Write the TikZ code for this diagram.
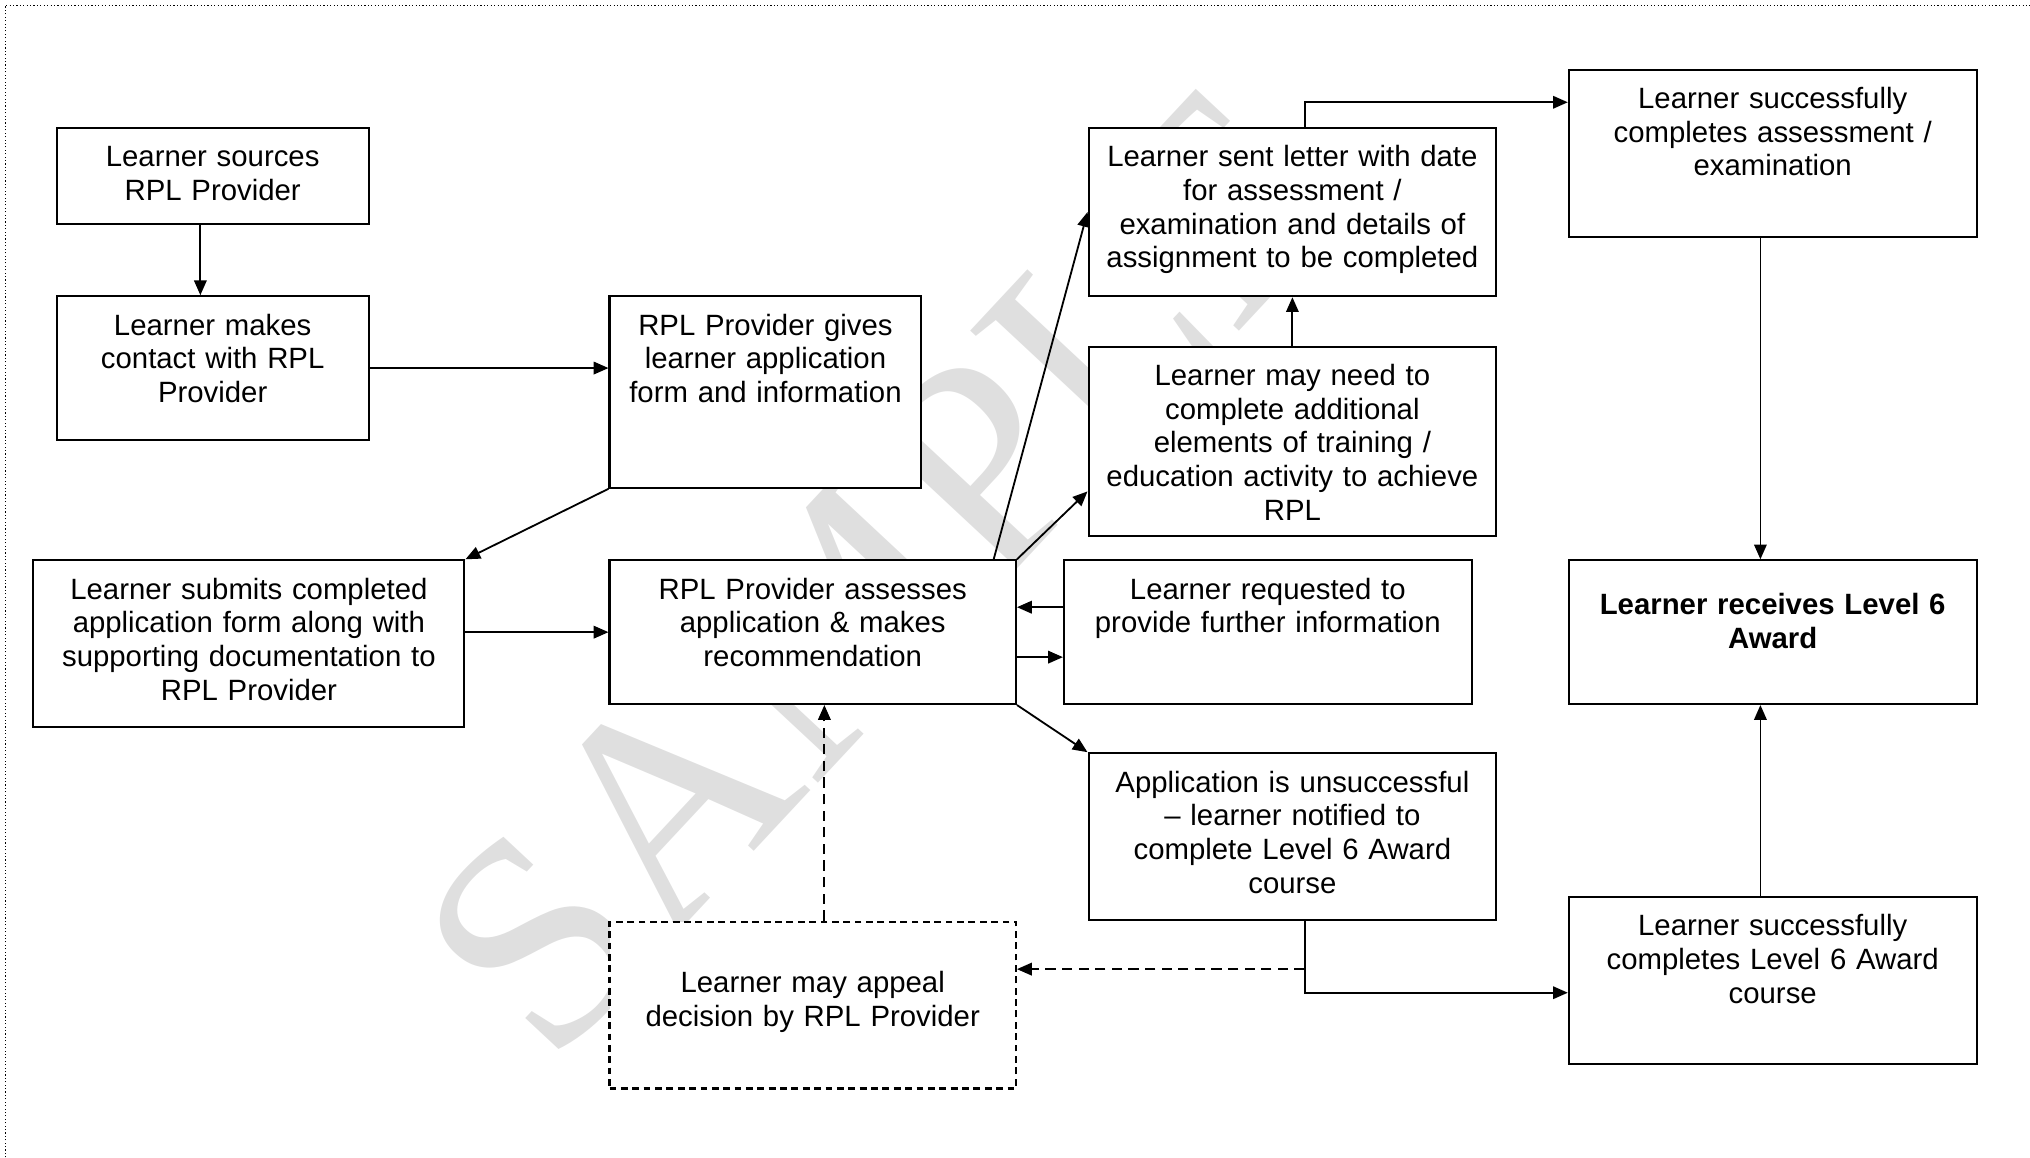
\documentclass[tikz,border=0pt]{standalone}
\usepackage{fontspec}
\setmainfont{Liberation Sans}
\newfontfamily\markfont{Liberation Serif}
\usetikzlibrary{arrows.meta}
\tikzset{>={Triangle[length=6.5pt,width=5.5pt]}}
\tikzset{
  stage/.style={draw, fill=white, line width=0.9pt, anchor=north west, align=center,
    inner sep=0pt, text height=0.6cm, font=\fontsize{12.9}{14.8}\selectfont},
  link/.style={line width=0.8pt, ->},
  appealdash/.style={dash pattern=on 4.5pt off 2.8pt},
}

\begin{document}
\begin{tikzpicture}[x=0.02cm, y=-0.02cm]
  \useasboundingbox (0,0) rectangle (1568,894);
  \draw[densely dotted, line width=0.5pt] (4,894) -- (4,4) -- (1568,4);
  % watermark
  \node[rotate=47, text=gray!25, font=\markfont\fontsize{132}{132}\selectfont] (mark) at (682,440) {SAMPLE};

  % left column
  \node[stage, text width=4.82cm, text depth=0.88cm] (src) at (43,98) {Learner sources\\RPL Provider};
  \node[stage, text width=4.82cm, text depth=1.62cm] (contact) at (43,228) {Learner makes\\contact with RPL\\Provider};
  \node[stage, text width=6.66cm, text depth=1.98cm] (submit) at (25,432) {Learner submits completed\\application form along with\\supporting documentation to\\RPL Provider};
  % middle column
  \node[stage, text width=4.82cm, text depth=2.36cm] (gives) at (470,228) {RPL Provider gives\\learner application\\form and information};
  \node[stage, text width=6.28cm, text depth=1.62cm] (assess) at (470,432) {RPL Provider assesses\\application \& makes\\recommendation};
  \node[stage, dash pattern=on 3pt off 2pt, text width=6.28cm, text height=1.1cm, text depth=1.48cm] (appeal) at (470,711) {Learner may appeal\\decision by RPL Provider};
  % outcomes
  \node[stage, text width=6.3cm, text depth=2.0cm] (letter) at (840,98) {Learner sent letter with date\\for assessment /\\examination and details of\\assignment to be completed};
  \node[stage, text width=6.3cm, text depth=2.32cm] (need) at (840,267) {Learner may need to\\complete additional\\elements of training /\\education activity to achieve\\RPL};
  \node[stage, text width=6.3cm, text depth=1.62cm] (request) at (821,432) {Learner requested to\\provide further information};
  \node[stage, text width=6.3cm, text depth=1.98cm] (unsucc) at (840,581) {Application is unsuccessful\\-- learner notified to\\complete Level 6 Award\\course};
  % right column
  \node[stage, text width=6.3cm, text depth=1.98cm] (doneexam) at (1211,53) {Learner successfully\\completes assessment /\\examination};
  \node[stage, text width=6.3cm, text height=0.84cm, text depth=1.38cm] (award) at (1211,432) {\bfseries Learner receives Level 6\\\bfseries Award};
  \node[stage, text width=6.3cm, text depth=1.98cm] (donecourse) at (1211,692) {Learner successfully\\completes Level 6 Award\\course};

  % connectors
  \draw[link] ([xshift=-0.19cm]src.south) -- ([xshift=-0.19cm]contact.north);
  \draw[link] (contact.east) -- (contact.east -| gives.west);
  \draw[link] (gives.south west) -- (submit.north east);
  \draw[link] (submit.east |- assess.west) -- (assess.west);
  \draw[link] ([xshift=-0.36cm]assess.north east) -- (letter.west);
  \draw[link] (assess.north east) -- ([yshift=0.7cm]need.south west);
  \draw[link] ([yshift=-0.74cm]request.north west) -- ([yshift=-0.74cm]request.north west -| assess.east);
  \draw[link] ([yshift=0.74cm]assess.south east) -- ([yshift=0.74cm]assess.south east -| request.west);
  \draw[link] (assess.south east) -- (unsucc.north west);
  \draw[link] (need.north) -- (letter.south);
  \draw[link] ([xshift=0.19cm]letter.north) |- ([yshift=-0.52cm]doneexam.north west);
  \draw[link] ([xshift=-0.19cm]doneexam.south) -- ([xshift=-0.19cm]award.north);
  \draw[link] ([xshift=-0.19cm]donecourse.north) -- ([xshift=-0.19cm]award.south);
  \draw[link] ([xshift=0.19cm]unsucc.south) |- ([yshift=-0.19cm]donecourse.west);
  \coordinate (split) at ([xshift=0.19cm, yshift=-0.74cm]unsucc.south);
  \draw[link, appealdash] (split) -- (split -| appeal.east);
  \draw[link, appealdash] ([xshift=0.18cm]appeal.north) -- ([xshift=0.18cm]assess.south);
\end{tikzpicture}
\end{document}
